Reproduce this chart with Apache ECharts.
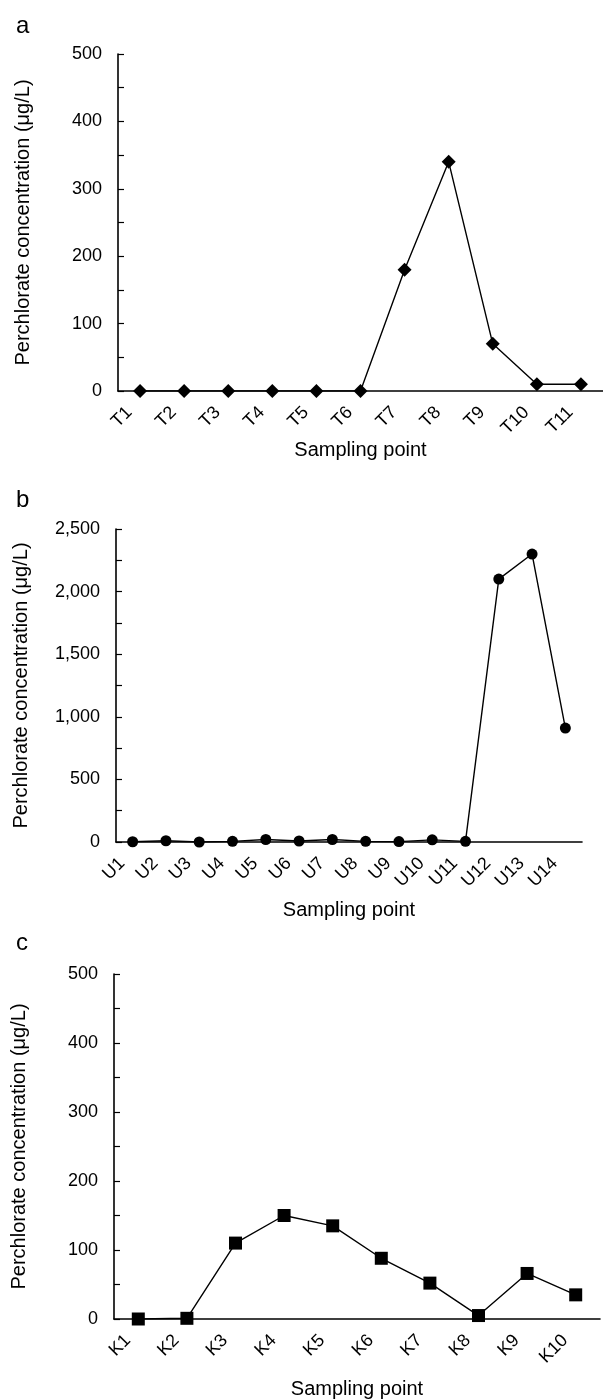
<!DOCTYPE html>
<html>
<head>
<meta charset="utf-8">
<title>Perchlorate concentration by sampling point</title>
<script src="https://cdn.jsdelivr.net/npm/echarts@6/dist/echarts.min.js"></script>
<style>
    html, body { margin: 0; padding: 0; background: #fff; }
    #graph { width: 603px; height: 1400px; }
</style>
</head>
<body>
<div id="graph"></div>
<script>
// panel a
var catsA = ['T1', 'T2', 'T3', 'T4', 'T5', 'T6', 'T7', 'T8', 'T9', 'T10', 'T11'];
var valsA = [0, 0, 0, 0, 0, 0, 180, 340, 70, 10, 10];

// panel b
var catsB = ['U1', 'U2', 'U3', 'U4', 'U5', 'U6', 'U7', 'U8', 'U9', 'U10', 'U11', 'U12', 'U13', 'U14'];
var valsB = [2, 10, 0, 5, 20, 8, 20, 5, 3, 17, 5, 2100, 2300, 910];

// panel c
var catsC = ['K1', 'K2', 'K3', 'K4', 'K5', 'K6', 'K7', 'K8', 'K9', 'K10'];
var valsC = [0, 1, 110, 150, 135, 88, 52, 5, 66, 35];

var yTitle = 'Perchlorate concentration (\u03bcg/L)';
var xTitle = 'Sampling point';
var FONT = '"Liberation Sans", Arial, sans-serif';

function makeX(idx, cats, gap) {
    return {
        type: 'category',
        gridIndex: idx,
        data: cats,
        boundaryGap: true,
        name: xTitle,
        nameLocation: 'middle',
        nameGap: gap,
        nameTextStyle: { color: '#000', fontSize: 20, fontFamily: FONT },
        axisLine: { lineStyle: { color: '#000', width: 1.6 } },
        axisTick: { show: false },
        axisLabel: {
            rotate: 45,
            margin: 8,
            padding: [0, 15, 0, 0],
            color: '#000',
            fontSize: 18,
            fontFamily: FONT
        },
        splitLine: { show: false }
    };
}

function makeY(idx, max, step, fmt) {
    return {
        type: 'value',
        gridIndex: idx,
        min: 0,
        max: max,
        interval: step,
        name: yTitle,
        nameLocation: 'middle',
        nameGap: 85,
        nameTextStyle: { color: '#000', fontSize: 20, fontFamily: FONT },
        axisLine: { show: true, lineStyle: { color: '#000', width: 1.6 } },
        axisTick: { show: true, inside: true, length: 6, lineStyle: { color: '#000', width: 1.2 } },
        minorTick: { show: true, splitNumber: 2, length: 6, lineStyle: { color: '#000', width: 1.2 } },
        axisLabel: {
            margin: 16,
            color: '#000',
            fontSize: 18,
            fontFamily: FONT,
            formatter: fmt
        },
        splitLine: { show: false }
    };
}

function makeSeries(idx, vals, symbol, size) {
    return {
        type: 'line',
        xAxisIndex: idx,
        yAxisIndex: idx,
        data: vals,
        symbol: symbol,
        symbolSize: size,
        showAllSymbol: true,
        lineStyle: { color: '#000', width: 1.4 },
        itemStyle: { color: '#000' },
        animation: false
    };
}

function LoadGraph() {
    var chart = echarts.init(document.getElementById('graph'));

    var commaFmt = function (v) {
        return String(v).replace(/\B(?=(\d{3})+(?!\d))/g, ',');
    };

    var letterStyle = { color: '#000', fontSize: 24, fontWeight: 'normal', fontFamily: FONT };

    var option = {
        backgroundColor: '#fff',
        animation: false,
        title: [
            { text: 'a', left: 11, top: 9, textStyle: letterStyle },
            { text: 'b', left: 11, top: 483, textStyle: letterStyle },
            { text: 'c', left: 11, top: 926, textStyle: letterStyle }
        ],
        grid: [
            { left: 118, top: 54, width: 488, height: 337 },
            { left: 116, top: 529, width: 466, height: 313 },
            { left: 114, top: 974, width: 486, height: 346 }
        ],
        xAxis: [
            makeX(0, catsA, 46),
            makeX(1, catsB, 58),
            makeX(2, catsC, 60)
        ],
        yAxis: [
            makeY(0, 500, 100),
            makeY(1, 2500, 500, commaFmt),
            makeY(2, 500, 100)
        ],
        series: [
            makeSeries(0, valsA, 'diamond', 14),
            makeSeries(1, valsB, 'circle', 11),
            makeSeries(2, valsC, 'rect', 13)
        ]
    };

    chart.setOption(option, true);
}

LoadGraph();
</script>
</body>
</html>
